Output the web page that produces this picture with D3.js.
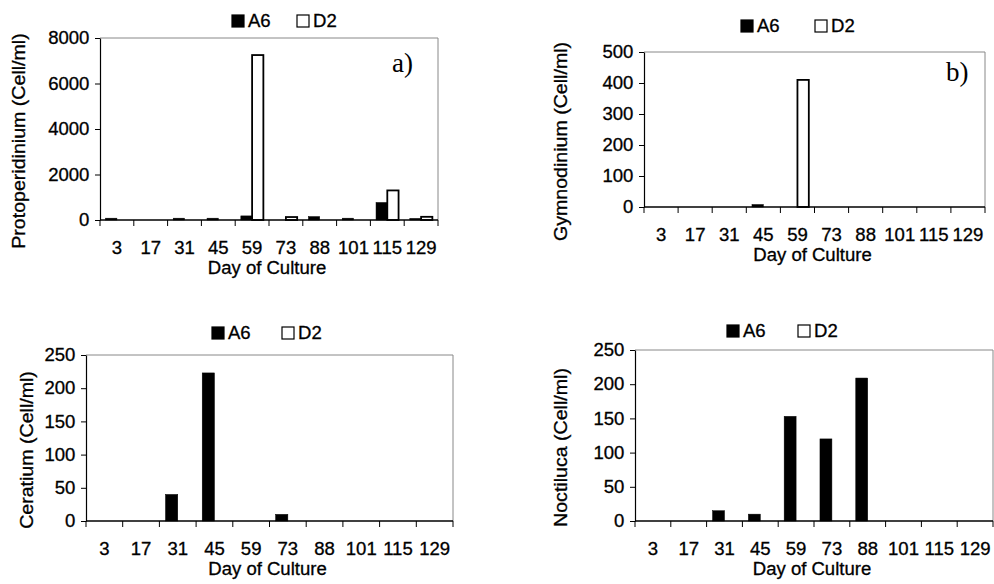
<!DOCTYPE html>
<html>
<head>
<meta charset="utf-8">
<script src="https://cdn.jsdelivr.net/npm/d3@7"></script>
<style>
  body { margin: 0; background: #fff; }
  svg { display: block; font-family: "Liberation Sans", Arial, sans-serif; }
  svg text { stroke: #000; stroke-width: 0.3px; }
</style>
</head>
<body>
<div id="chart"></div>
<script>
// Day of culture categories (shared by all four panels)
const days = [3, 17, 31, 45, 59, 73, 88, 101, 115, 129];
const seriesNames = ["A6", "D2"];

// Cell/ml values
const protoA6 = [80, 0, 80, 80, 180, 0, 150, 80, 770, 70];
const protoD2 = [0, 0, 0, 0, 7250, 130, 0, 0, 1300, 140];
const gymnoA6 = [0, 0, 0, 8, 0, 0, 0, 0, 0, 0];
const gymnoD2 = [0, 0, 0, 0, 410, 0, 0, 0, 0, 0];
const ceratA6 = [0, 0, 40, 223, 0, 10, 0, 0, 0, 0];
const ceratD2 = [0, 0, 0, 0, 0, 0, 0, 0, 0, 0];
const noctA6 = [0, 0, 15, 10, 153, 120, 209, 0, 0, 0];
const noctD2 = [0, 0, 0, 0, 0, 0, 0, 0, 0, 0];

const width = 994, height = 584;
const fs = 17.5;      // label font size
const sx = 1.06;      // scanned text is a little wider than the font
const sxTitle = 1.12;

const svg = d3.select("#chart")
    .append("svg")
    .attr("width", width)
    .attr("height", height);

const panels = [
    { title: "Protoperidinium (Cell/ml)", a6: protoA6, d2: protoD2, max: 8000, step: 2000,
      left: 100, right: 438, top: 38, bottom: 220, legX: 232, legY: 21, legGap: 65,
      titleX: 19, label: "a)", labelX: 392, labelY: 72 },
    { title: "Gymnodinium (Cell/ml)", a6: gymnoA6, d2: gymnoD2, max: 500, step: 100,
      left: 644, right: 985, top: 52, bottom: 207, legX: 741, legY: 26, legGap: 74,
      titleX: 561, label: "b)", labelX: 946, labelY: 81 },
    { title: "Ceratium (Cell/ml)", a6: ceratA6, d2: ceratD2, max: 250, step: 50,
      left: 86, right: 453, top: 355, bottom: 521, legX: 212, legY: 333, legGap: 70,
      titleX: 27 },
    { title: "Noctiluca (Cell/ml)", a6: noctA6, d2: noctD2, max: 250, step: 50,
      left: 635, right: 993, top: 350, bottom: 521, legX: 727, legY: 331, legGap: 71,
      titleX: 561 }
];

panels.forEach(drawPanel);

function drawPanel(p) {
    const g = svg.append("g");

    const x = d3.scaleBand()
        .domain(days)
        .range([p.left, p.right])
        .padding(0);

    const xs = d3.scaleBand()
        .domain(seriesNames)
        .range([0, x.bandwidth()])
        .paddingInner(0)
        .paddingOuter(0.5);

    const y = d3.scaleLinear()
        .domain([0, p.max])
        .range([p.bottom, p.top]);

    // plot area border (top and right, light grey)
    g.append("path")
        .attr("d", `M${p.left},${p.top}H${p.right}V${p.bottom}`)
        .attr("fill", "none")
        .attr("stroke", "#888")
        .attr("stroke-width", 1);

    // bars
    const rows = [];
    days.forEach((d, i) => {
        rows.push({ day: d, s: "A6", v: p.a6[i] });
        rows.push({ day: d, s: "D2", v: p.d2[i] });
    });

    g.selectAll("rect.bar")
        .data(rows.filter(r => r.v > 0))
        .join("rect")
        .attr("class", "bar")
        .attr("x", r => x(r.day) + xs(r.s))
        .attr("y", r => y(r.v))
        .attr("width", xs.bandwidth())
        .attr("height", r => y(0) - y(r.v))
        .attr("fill", r => r.s === "A6" ? "#000" : "#fff")
        .attr("stroke", "#000")
        .attr("stroke-width", r => r.s === "A6" ? 0.5 : 1.8);

    // y axis
    const yAxis = d3.axisLeft(y)
        .tickValues(d3.range(0, p.max + 1, p.step))
        .tickFormat(d3.format("d"))
        .tickSizeInner(5)
        .tickSizeOuter(0)
        .tickPadding(5);

    const ya = g.append("g")
        .attr("transform", `translate(${p.left},0)`)
        .call(yAxis);
    ya.select(".domain").attr("stroke", "#000").attr("stroke-width", 1.2);
    ya.selectAll(".tick line").attr("stroke", "#000");
    ya.selectAll("text")
        .attr("font-size", fs)
        .attr("font-family", "Liberation Sans, Arial, sans-serif")
        .attr("fill", "#000")
        .attr("transform", `scale(${sx},1)`);

    // x axis: labels at category centres
    const xAxis = d3.axisBottom(x)
        .tickSize(0)
        .tickPadding(22);

    const xa = g.append("g")
        .attr("transform", `translate(0,${p.bottom})`)
        .call(xAxis);
    xa.select(".domain").remove();
    xa.selectAll("text")
        .attr("font-size", fs)
        .attr("font-family", "Liberation Sans, Arial, sans-serif")
        .attr("fill", "#000")
        .attr("transform", `scale(${sx},1)`);

    // baseline and category boundary ticks
    g.append("line")
        .attr("x1", p.left).attr("x2", p.right)
        .attr("y1", y(0)).attr("y2", y(0))
        .attr("stroke", "#000")
        .attr("stroke-width", 1.5);

    const bounds = days.map(d => x(d)).concat([p.right]);
    g.selectAll("line.xtick")
        .data(bounds)
        .join("line")
        .attr("class", "xtick")
        .attr("x1", d => d).attr("x2", d => d)
        .attr("y1", y(0)).attr("y2", y(0) + 6)
        .attr("stroke", "#000");

    // x title
    g.append("text")
        .attr("transform", `translate(${(p.left + p.right) / 2 - 2},${p.bottom + 54}) scale(${sx},1)`)
        .attr("text-anchor", "middle")
        .attr("font-size", fs)
        .attr("fill", "#000")
        .text("Day of Culture");

    // y title
    g.append("text")
        .attr("transform", `translate(${p.titleX},${(p.top + p.bottom) / 2 + 12}) rotate(-90) scale(${sxTitle},1)`)
        .attr("text-anchor", "middle")
        .attr("dy", "0.35em")
        .attr("font-size", fs)
        .attr("fill", "#000")
        .text(p.title);

    // legend
    const leg = g.append("g")
        .attr("transform", `translate(${p.legX},${p.legY})`);
    seriesNames.forEach((s, i) => {
        const item = leg.append("g").attr("transform", `translate(${i * p.legGap},0)`);
        item.append("rect")
            .attr("x", 0).attr("y", -6)
            .attr("width", 12).attr("height", 12)
            .attr("fill", s === "A6" ? "#000" : "#fff")
            .attr("stroke", "#000")
            .attr("stroke-width", 1.2);
        item.append("text")
            .attr("transform", `translate(16,0) scale(${sx},1)`)
            .attr("dy", "0.36em")
            .attr("font-size", fs)
            .attr("fill", "#000")
            .text(s);
    });

    // panel letter
    if (p.label) {
        g.append("text")
            .attr("x", p.labelX)
            .attr("y", p.labelY)
            .attr("font-family", "Liberation Serif, Times New Roman, serif")
            .attr("font-size", 27)
            .attr("fill", "#000")
            .style("stroke-width", "0px")
            .text(p.label);
    }
}
</script>
</body>
</html>
